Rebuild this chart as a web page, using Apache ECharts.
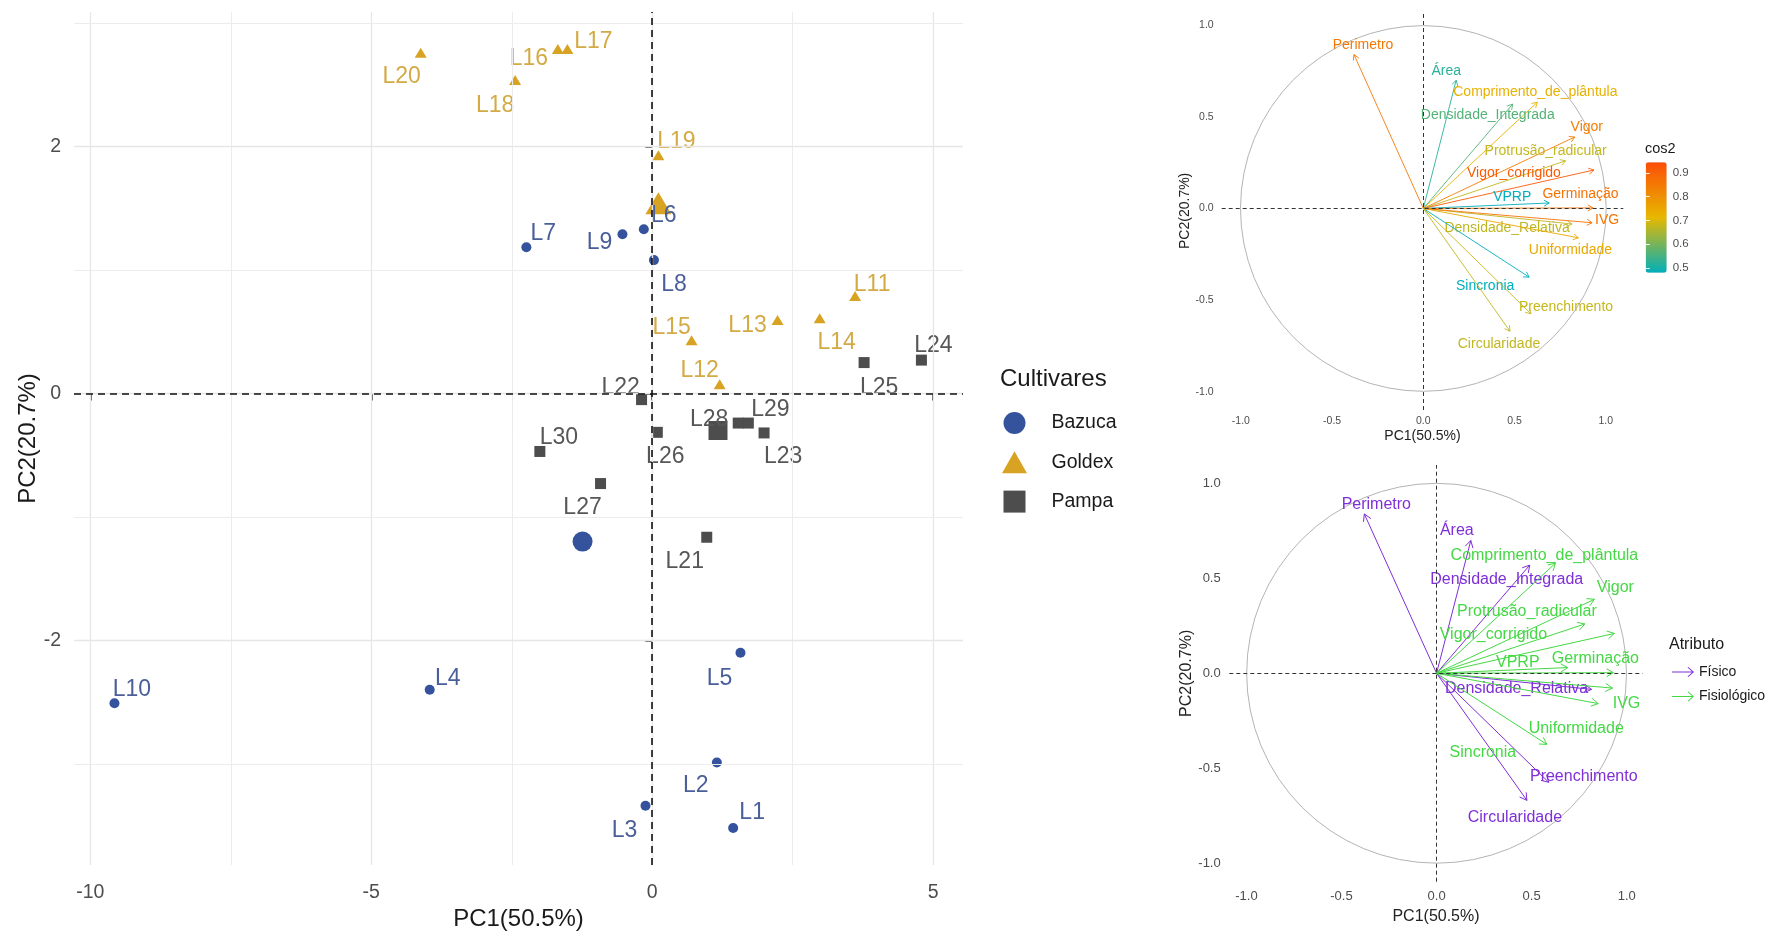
<!DOCTYPE html>
<html>
<head>
<meta charset="utf-8">
<script src="https://cdn.jsdelivr.net/npm/echarts@6/dist/echarts.min.js"></script>
<style>
  html, body { margin: 0; padding: 0; background: #ffffff; }
  #chart { width: 1776px; height: 936px; }
</style>
</head>
<body>
<div id="chart"></div>
<script>
// ---------- PCA scores of the seed lots (PC1, PC2) ----------
const bazucaNames = ['L1', 'L2', 'L3', 'L4', 'L5', 'L6', 'L7', 'L8', 'L9', 'L10'];
const bazucaPC1 = [1.44, 1.15, -0.12, -3.96, 1.57, -0.15, -2.24, 0.03, -0.53, -9.57];
const bazucaPC2 = [-3.52, -2.99, -3.34, -2.40, -2.10, 1.33, 1.185, 1.08, 1.29, -2.51];

const goldexNames = ['L11', 'L12', 'L13', 'L14', 'L15', 'L16', 'L17', 'L18', 'L19', 'L20'];
const goldexPC1 = [3.61, 1.20, 2.23, 2.98, 0.70, -1.68, -1.51, -2.44, 0.11, -4.12];
const goldexPC2 = [0.79, 0.075, 0.595, 0.61, 0.43, 2.79, 2.79, 2.54, 1.93, 2.76];

const pampaNames = ['L21', 'L22', 'L23', 'L24', 'L25', 'L26', 'L27', 'L28', 'L29', 'L30'];
const pampaPC1 = [0.97, -0.19, 1.99, 4.79, 3.77, 0.09, -0.92, 1.53, 1.71, -2.00];
const pampaPC2 = [-1.165, -0.05, -0.32, 0.27, 0.25, -0.315, -0.73, -0.24, -0.24, -0.47];

// group mean points (PC1, PC2)
const bazucaMean = [-1.24, -1.20];
const goldexMean = [0.11, 1.54];
const pampaMean = [1.17, -0.30];

// ---------- variable loadings (correlation circle) ----------
const varNames = ['Perimetro', 'Área', 'Comprimento_de_plântula', 'Densidade_Integrada', 'Vigor',
  'Protrusão_radicular', 'Vigor_corrigido', 'VPRP', 'Germinação', 'Densidade_Relativa',
  'IVG', 'Uniformidade', 'Sincronia', 'Preenchimento', 'Circularidade'];
const varPC1 = [-0.38, 0.18, 0.625, 0.49, 0.83, 0.78, 0.935, 0.69, 0.93, 0.815, 0.925, 0.85, 0.58, 0.59, 0.475];
const varPC2 = [0.84, 0.70, 0.58, 0.57, 0.39, 0.26, 0.21, 0.03, 0.003, -0.085, -0.078, -0.16, -0.375, -0.575, -0.67];
const varGroup = ['Físico', 'Físico', 'Fisiológico', 'Físico', 'Fisiológico',
  'Fisiológico', 'Fisiológico', 'Fisiológico', 'Fisiológico', 'Físico',
  'Fisiológico', 'Fisiológico', 'Fisiológico', 'Físico', 'Físico'];

// ---------- tick labels ----------
const scoreTicksX = [-10, -5, 0, 5];
const scoreTicksY = [-2, 0, 2];
const scoreMinorX = [-7.5, -2.5, 2.5];
const scoreMinorY = [-3, -1, 1, 3];
const loadTicks = [-1, -0.5, 0, 0.5, 1];
const cos2Ticks = [0.5, 0.6, 0.7, 0.8, 0.9];

// ---------- layout: text label offsets in pixels ----------
const pointLabelOffset = {
  L1: [19, -18], L2: [-21, 21], L3: [-21, 22], L4: [18, -14], L5: [-21, 23],
  L6: [20, -16], L7: [17, -16], L8: [20, 22], L9: [-23, 6], L10: [17.5, -16],
  L11: [17, -14], L12: [-20, -16], L13: [-30, 3], L14: [17, 22], L15: [-20, -15],
  L16: [-29, 7], L17: [26, -10], L18: [-20, 23], L19: [18, -16], L20: [-19, 21],
  L21: [-22, 22], L22: [-21, -14], L23: [19, 21], L24: [12, -17], L25: [15, 23],
  L26: [8, 22], L27: [-18, 22], L28: [-29, -6], L29: [22, -16], L30: [19, -16]
};
const LABEL_DY = 2.5; // glyph centring correction for the lot labels
const topLabelOffset = {
  'Perimetro': [9, -10], 'Área': [-10, -10], 'Comprimento_de_plântula': [-2, -11.5],
  'Densidade_Integrada': [-25, 10], 'Vigor': [12, -11], 'Protrusão_radicular': [-20, -11],
  'Vigor_corrigido': [-80, 2], 'VPRP': [-37, -7], 'Germinação': [-12.5, -15],
  'Densidade_Relativa': [-65, 3], 'IVG': [15, -4], 'Uniformidade': [-8, 11],
  'Sincronia': [-44, 8], 'Preenchimento': [35, -7.5], 'Circularidade': [-11, 12]
};
const bottomLabelOffset = {
  'Perimetro': [12, -10], 'Área': [-14, -11], 'Comprimento_de_plântula': [-11, -9],
  'Densidade_Integrada': [-23, 13], 'Vigor': [21, -13], 'Protrusão_radicular': [-58, -13],
  'Vigor_corrigido': [-121, 0], 'VPRP': [-50, -6], 'Germinação': [-18, -15],
  'Densidade_Relativa': [-75, -2], 'IVG': [14, 15], 'Uniformidade': [-22, 24],
  'Sincronia': [-64, 7], 'Preenchimento': [35, -7], 'Circularidade': [-12, 16]
};

const FONT = '"Liberation Sans", Arial, Helvetica, sans-serif';
const COL = { Bazuca: '#34539c', Goldex: '#d8a322', Pampa: '#4d4d4d' };
const LABEL_COL = { Bazuca: '#4a5f99', Goldex: '#d3aa44', Pampa: '#575757' };
const GROUP_COL = { 'Físico': '#7f2fd6', 'Fisiológico': '#44d844' };
const ARROW_ICON = 'path://M0,4.4 L20,4.4 L15.5,0.6 L16.3,0 L22,5 L16.3,10 L15.5,9.4 L20,5.6 L0,5.6 Z';
const CIRCLE_ICON = 'path://M9,0 A9,9 0 1 1 8.99,0 Z';
const TRIANGLE_ICON = 'path://M12.5,0 L25,22 L0,22 Z';
const SQUARE_ICON = 'path://M0,0 L21,0 L21,21 L0,21 Z';

// ---------- scatter of the lots ----------
function lotSeries(name, names, xs, ys, mean, symbol, size, meanSize) {
  const data = names.map((n, i) => ({
    name: n,
    value: [xs[i], ys[i]],
    label: { offset: [pointLabelOffset[n][0], pointLabelOffset[n][1] + LABEL_DY] }
  }));
  data.push({ name: name + ' média', value: mean, symbolSize: meanSize, label: { show: false } });
  return {
    type: 'scatter', name, xAxisIndex: 0, yAxisIndex: 0, z: 3,
    symbol, symbolSize: size,
    itemStyle: { color: COL[name], opacity: 1 },
    label: {
      show: true, position: 'inside', formatter: '{b}',
      color: LABEL_COL[name], fontSize: 23, fontFamily: FONT
    },
    emphasis: { disabled: true },
    data
  };
}

// grid lines of the score plot
const majorStyle = { color: '#e6e6e6', width: 1.3, type: 'solid' };
const minorStyle = { color: '#ececec', width: 1, type: 'solid' };
const gridLineSeries = {
  type: 'line', name: 'grade', xAxisIndex: 0, yAxisIndex: 0, z: 1, data: [], silent: true,
  markLine: {
    silent: true, symbol: 'none', label: { show: false }, animation: false,
    data: [
      ...scoreTicksX.map(v => ({ xAxis: v, lineStyle: majorStyle })),
      ...scoreMinorX.map(v => ({ xAxis: v, lineStyle: minorStyle })),
      ...scoreTicksY.map(v => ({ yAxis: v, lineStyle: majorStyle })),
      ...scoreMinorY.map(v => ({ yAxis: v, lineStyle: minorStyle }))
    ]
  }
};
const zeroLineSeries = {
  type: 'line', name: 'zero', xAxisIndex: 0, yAxisIndex: 0, z: 4, data: [], silent: true,
  markLine: {
    silent: true, symbol: 'none', label: { show: false }, animation: false,
    lineStyle: { color: '#111', width: 1.6, type: [7, 5] },
    data: [{ xAxis: 0 }, { yAxis: 0 }]
  }
};

// ---------- correlation circle helpers ----------
function circleSeries(xi, yi) {
  return {
    type: 'custom', name: 'círculo' + xi, xAxisIndex: xi, yAxisIndex: yi, z: 1, silent: true,
    data: [[0, 0]],
    renderItem: function (params, api) {
      const c = api.coord([0, 0]);
      const s = api.size([1, 1]);
      return {
        type: 'circle',
        shape: { cx: c[0], cy: c[1], r: (s[0] + s[1]) / 2 },
        style: { fill: 'none', stroke: '#b4b4b4', lineWidth: 1 }
      };
    },
    markLine: {
      silent: true, symbol: 'none', label: { show: false }, animation: false,
      lineStyle: { color: '#333', width: 1, type: [4, 3] },
      data: [{ xAxis: 0 }, { yAxis: 0 }]
    }
  };
}

function arrowRenderer(offsets, idxDim, headLen, lineW, fontSize, fixedColor) {
  return function (params, api) {
    const x = api.value(0), y = api.value(1), i = api.value(idxDim);
    const o = api.coord([0, 0]);
    const p = api.coord([x, y]);
    const color = fixedColor || api.visual('color');
    const ang = Math.atan2(p[1] - o[1], p[0] - o[0]);
    const a = Math.PI / 6;
    const h1 = [p[0] - headLen * Math.cos(ang - a), p[1] - headLen * Math.sin(ang - a)];
    const h2 = [p[0] - headLen * Math.cos(ang + a), p[1] - headLen * Math.sin(ang + a)];
    const name = varNames[i];
    const off = offsets[name];
    return {
      type: 'group',
      children: [
        { type: 'line', shape: { x1: o[0], y1: o[1], x2: p[0], y2: p[1] },
          style: { stroke: color, lineWidth: lineW } },
        { type: 'polyline', shape: { points: [h1, p, h2] },
          style: { stroke: color, fill: null, lineWidth: lineW } },
        { type: 'text', x: p[0] + off[0], y: p[1] + off[1] + 1,
          style: { text: name, fill: color, fontSize: fontSize, fontFamily: FONT,
                   align: 'center', verticalAlign: 'middle' } }
      ]
    };
  };
}

// top circle: colour by cos2 (quality of representation on PC1-PC2)
const cos2Data = varNames.map((n, i) => [varPC1[i], varPC2[i], varPC1[i] * varPC1[i] + varPC2[i] * varPC2[i], i]);
const cos2Series = {
  type: 'custom', name: 'cos2', xAxisIndex: 1, yAxisIndex: 1, z: 3, silent: true,
  data: cos2Data,
  renderItem: arrowRenderer(topLabelOffset, 3, 6, 0.9, 14, null)
};

// bottom circle: colour by attribute type
function groupSeries(group) {
  const data = [];
  varNames.forEach((n, i) => { if (varGroup[i] === group) data.push([varPC1[i], varPC2[i], i]); });
  return {
    type: 'custom', name: group, xAxisIndex: 2, yAxisIndex: 2, z: 3, silent: true,
    itemStyle: { color: GROUP_COL[group] },
    data,
    renderItem: arrowRenderer(bottomLabelOffset, 2, 8, 1, 16, GROUP_COL[group])
  };
}

// ---------- axes ----------
function scoreAxis(gridIndex, min, max, ticks, fontSize, margin, name, nameGap) {
  return {
    type: 'value', gridIndex, min, max, name, nameLocation: 'middle', nameGap,
    nameMoveOverlap: false,
    nameTextStyle: { fontSize: 24, color: '#1a1a1a', fontFamily: FONT },
    axisLine: { show: false },
    axisTick: { show: true, length: 7, customValues: ticks, lineStyle: { color: '#333', width: 1.5 } },
    axisLabel: { customValues: ticks, fontSize, color: '#4d4d4d', margin, fontFamily: FONT },
    splitLine: { show: false }
  };
}
function loadAxis(gridIndex, min, max, fontSize, margin, name, nameSize, nameGap) {
  return {
    type: 'value', gridIndex, min, max, name, nameLocation: 'middle', nameGap,
    nameMoveOverlap: false,
    nameTextStyle: { fontSize: nameSize, color: '#222', fontFamily: FONT },
    axisLine: { show: false },
    axisTick: { show: false },
    axisLabel: { customValues: loadTicks, formatter: v => v.toFixed(1), fontSize, color: '#4d4d4d', margin, fontFamily: FONT },
    splitLine: { show: false }
  };
}
function barAxis(position, labels) {
  return {
    type: 'value', gridIndex: 3, min: 0.48, max: 0.945, position, z: 10,
    axisLine: { show: false },
    axisTick: { show: true, inside: true, length: 4, customValues: cos2Ticks, lineStyle: { color: '#ffffff', width: 1 } },
    axisLabel: { show: labels, customValues: cos2Ticks, formatter: v => v.toFixed(1), fontSize: 11.5, color: '#4d4d4d', margin: 6, fontFamily: FONT },
    splitLine: { show: false }
  };
}

const option = {
  animation: false,
  backgroundColor: '#ffffff',
  textStyle: { fontFamily: FONT },
  title: [
    { text: 'Cultivares', left: 1000, top: 367, padding: 0,
      textStyle: { fontSize: 24, fontWeight: 'normal', color: '#1a1a1a', fontFamily: FONT } },
    { text: 'cos2', left: 1645, top: 141, padding: 0,
      textStyle: { fontSize: 14.5, fontWeight: 'normal', color: '#1a1a1a', fontFamily: FONT } },
    { text: 'Atributo', left: 1669, top: 637, padding: 0,
      textStyle: { fontSize: 16, fontWeight: 'normal', color: '#1a1a1a', fontFamily: FONT } }
  ],
  grid: [
    { left: 74, top: 12, width: 889, height: 855 },
    { left: 1221.7, top: 11.7, width: 401.6, height: 398.3 },
    { left: 1229.3, top: 465, width: 413.4, height: 416.7 },
    { left: 1645.7, top: 162.3, width: 21, height: 110.4 }
  ],
  xAxis: [
    scoreAxis(0, -10.29, 5.53, scoreTicksX, 19.5, 18, 'PC1(50.5%)', 42),
    loadAxis(1, -1.105, 1.096, 10.5, 6, 'PC1(50.5%)', 14, 19),
    loadAxis(2, -1.09, 1.084, 13, 8, 'PC1(50.5%)', 16, 27),
    { type: 'value', gridIndex: 3, min: 0, max: 1, show: false }
  ],
  yAxis: [
    scoreAxis(0, -3.82, 3.09, scoreTicksY, 19.5, 13, 'PC2(20.7%)', 34),
    loadAxis(1, -1.10, 1.074, 10.5, 8, 'PC2(20.7%)', 14, 30),
    loadAxis(2, -1.099, 1.098, 13, 8.6, 'PC2(20.7%)', 16, 34.6),
    barAxis('right', true),
    barAxis('left', false)
  ],
  visualMap: {
    type: 'continuous', seriesIndex: 6, dimension: 2,
    min: 0.48, max: 0.945, calculable: false, hoverLink: false,
    left: 1645.7, top: 162.3, itemWidth: 21, itemHeight: 110.4, padding: 0,
    inRange: { color: ['#00AFBB', '#E7B800', '#FC4E07'] },
    textStyle: { color: 'transparent' }
  },
  legend: [
    {
      orient: 'vertical', left: 1002, top: 412, padding: 0,
      itemWidth: 64, itemHeight: 22, itemGap: 17.3, selectedMode: false, symbolKeepAspect: true,
      data: [
        { name: 'Bazuca', icon: CIRCLE_ICON },
        { name: 'Goldex', icon: TRIANGLE_ICON },
        { name: 'Pampa', icon: SQUARE_ICON }
      ],
      textStyle: { fontSize: 19.5, color: '#1a1a1a', fontFamily: FONT }
    },
    {
      orient: 'vertical', left: 1672, top: 665, padding: 0,
      itemWidth: 22, itemHeight: 10, itemGap: 10.5, selectedMode: false,
      data: [
        { name: 'Físico', icon: ARROW_ICON },
        { name: 'Fisiológico', icon: ARROW_ICON }
      ],
      textStyle: { fontSize: 14, color: '#1a1a1a', fontFamily: FONT }
    }
  ],
  series: [
    gridLineSeries,                                                                   // 0
    lotSeries('Bazuca', bazucaNames, bazucaPC1, bazucaPC2, bazucaMean, 'circle', 10, 20), // 1
    lotSeries('Goldex', goldexNames, goldexPC1, goldexPC2, goldexMean, 'triangle', [12, 10], [26, 22]), // 2
    lotSeries('Pampa', pampaNames, pampaPC1, pampaPC2, pampaMean, 'rect', 11, 19),     // 3
    zeroLineSeries,                                                                   // 4
    circleSeries(1, 1),                                                               // 5
    cos2Series,                                                                       // 6
    circleSeries(2, 2),                                                               // 7
    groupSeries('Físico'),                                                            // 8
    groupSeries('Fisiológico')                                                        // 9
  ]
};

const chart = echarts.init(document.getElementById('chart'), null, { renderer: 'canvas' });
chart.setOption(option);
</script>
</body>
</html>
